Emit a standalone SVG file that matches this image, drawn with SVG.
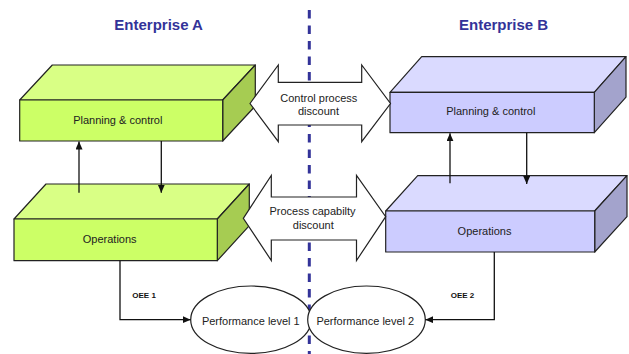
<svg xmlns="http://www.w3.org/2000/svg" width="629" height="354" viewBox="0 0 629 354">
  <defs>
    <marker id="head" markerUnits="userSpaceOnUse" markerWidth="9" markerHeight="8" refX="8" refY="3.5" orient="auto">
      <path d="M0,0 L8,3.5 L0,7 z" fill="#111"/>
    </marker>
    <style>
      .title { font-family: "Liberation Sans", Arial, sans-serif; font-weight: bold; font-size: 15px; fill: #333399; }
      .lbl { font-family: "Liberation Sans", Arial, sans-serif; font-size: 11px; fill: #222; text-anchor: middle; }
      .oee { font-family: "Liberation Sans", Arial, sans-serif; font-weight: bold; font-size: 8px; fill: #111; }
      .edge { stroke: #222; stroke-width: 1.2; stroke-linejoin: round; }
      .g-front { fill: #ccff66; }
      .g-top { fill: #d9ff85; }
      .g-side { fill: #a6cc52; }
      .b-front { fill: #ccccff; }
      .b-top { fill: #dadaff; }
      .b-side { fill: #a3a3cc; }
      .block { fill: #ffffff; stroke: #222; stroke-width: 1.2; stroke-linejoin: miter; }
      .conn { fill: none; stroke: #111; stroke-width: 1.3; }
      .oval { fill: #ffffff; stroke: #222; stroke-width: 1.2; }
    </style>
  </defs>

  <rect width="629" height="354" fill="#ffffff"/>

  <!-- enterprise boundary -->
  <line x1="309.3" y1="10" x2="309.3" y2="354" stroke="#333399" stroke-width="3" stroke-dasharray="8.5 7"/>

  <text class="title" x="114.3" y="30">Enterprise A</text>
  <text class="title" x="459" y="30">Enterprise B</text>

  <!-- Enterprise A -->
  <g id="planning-a">
    <polygon class="g-top edge" points="19.7,100 52.3,65 255.3,65 222.7,100"/>
    <polygon class="g-side edge" points="222.7,100 255.3,65 255.3,106 222.7,141"/>
    <rect class="g-front edge" x="19.7" y="100" width="203" height="41"/>
    <text class="lbl" x="117.8" y="124">Planning &amp; control</text>
  </g>
  <g id="operations-a">
    <polygon class="g-top edge" points="14,219 46,184 249.3,184 217.3,219"/>
    <polygon class="g-side edge" points="217.3,219 249.3,184 249.3,225.7 217.3,260.7"/>
    <rect class="g-front edge" x="14" y="219" width="203.3" height="41.7"/>
    <text class="lbl" x="109.7" y="242.7">Operations</text>
  </g>

  <!-- Enterprise B -->
  <g id="planning-b">
    <polygon class="b-top edge" points="390,92.3 421.7,56.7 626,56.7 594.3,92.3"/>
    <polygon class="b-side edge" points="594.3,92.3 626,56.7 626,97.1 594.3,132.7"/>
    <rect class="b-front edge" x="390" y="92.3" width="204.3" height="40.4"/>
    <text class="lbl" x="490.8" y="115">Planning &amp; control</text>
  </g>
  <g id="operations-b">
    <polygon class="b-top edge" points="385.7,211 417.7,175.7 627,175.7 594.7,211"/>
    <polygon class="b-side edge" points="594.7,211 627,175.7 627,216.7 594.7,252"/>
    <rect class="b-front edge" x="385.7" y="211" width="209" height="41"/>
    <text class="lbl" x="484.5" y="235">Operations</text>
  </g>

  <!-- two-way discount arrows between the enterprises -->
  <g id="control-process-discount">
    <polygon class="block" points="250,103.5 278.3,65 278.3,82.3 361.7,82.3 361.7,65 390.5,103.5 361.7,141.7 361.7,125 278.3,125 278.3,141.7"/>
    <text class="lbl" x="318.8" y="101.7">Control process</text>
    <text class="lbl" x="318.5" y="115">discount</text>
  </g>
  <g id="process-capability-discount">
    <polygon class="block" points="243.3,218.3 271.3,175.5 271.3,197 356.5,197 356.5,175.5 385.7,216.7 356.5,260.5 356.5,240 271.3,240 271.3,260.5"/>
    <text class="lbl" x="312.5" y="215">Process capabilty</text>
    <text class="lbl" x="313.3" y="229.3">discount</text>
  </g>

  <!-- performance levels -->
  <g id="performance-1">
    <ellipse class="oval" cx="251" cy="319.7" rx="60.3" ry="33.7"/>
    <text class="lbl" x="250.8" y="325">Performance level 1</text>
  </g>
  <g id="performance-2">
    <ellipse class="oval" cx="366.5" cy="319.7" rx="58.8" ry="33.7"/>
    <text class="lbl" x="365.3" y="325">Performance level 2</text>
  </g>

  <!-- connectors -->
  <g id="connectors">
    <line class="conn" x1="79" y1="192.7" x2="79" y2="141.5" marker-end="url(#head)"/>
    <line class="conn" x1="161.3" y1="141" x2="161.3" y2="192.7" marker-end="url(#head)"/>
    <line class="conn" x1="450" y1="183.3" x2="450" y2="133.2" marker-end="url(#head)"/>
    <line class="conn" x1="526.7" y1="132.7" x2="526.7" y2="184" marker-end="url(#head)"/>
    <path class="conn" d="M120,260.7 V319.7 H190.7" marker-end="url(#head)"/>
    <text class="oee" x="132.3" y="298">OEE 1</text>
    <path class="conn" d="M494.3,252 V319.7 H425.3" marker-end="url(#head)"/>
    <text class="oee" x="450.7" y="298">OEE 2</text>
  </g>
</svg>
